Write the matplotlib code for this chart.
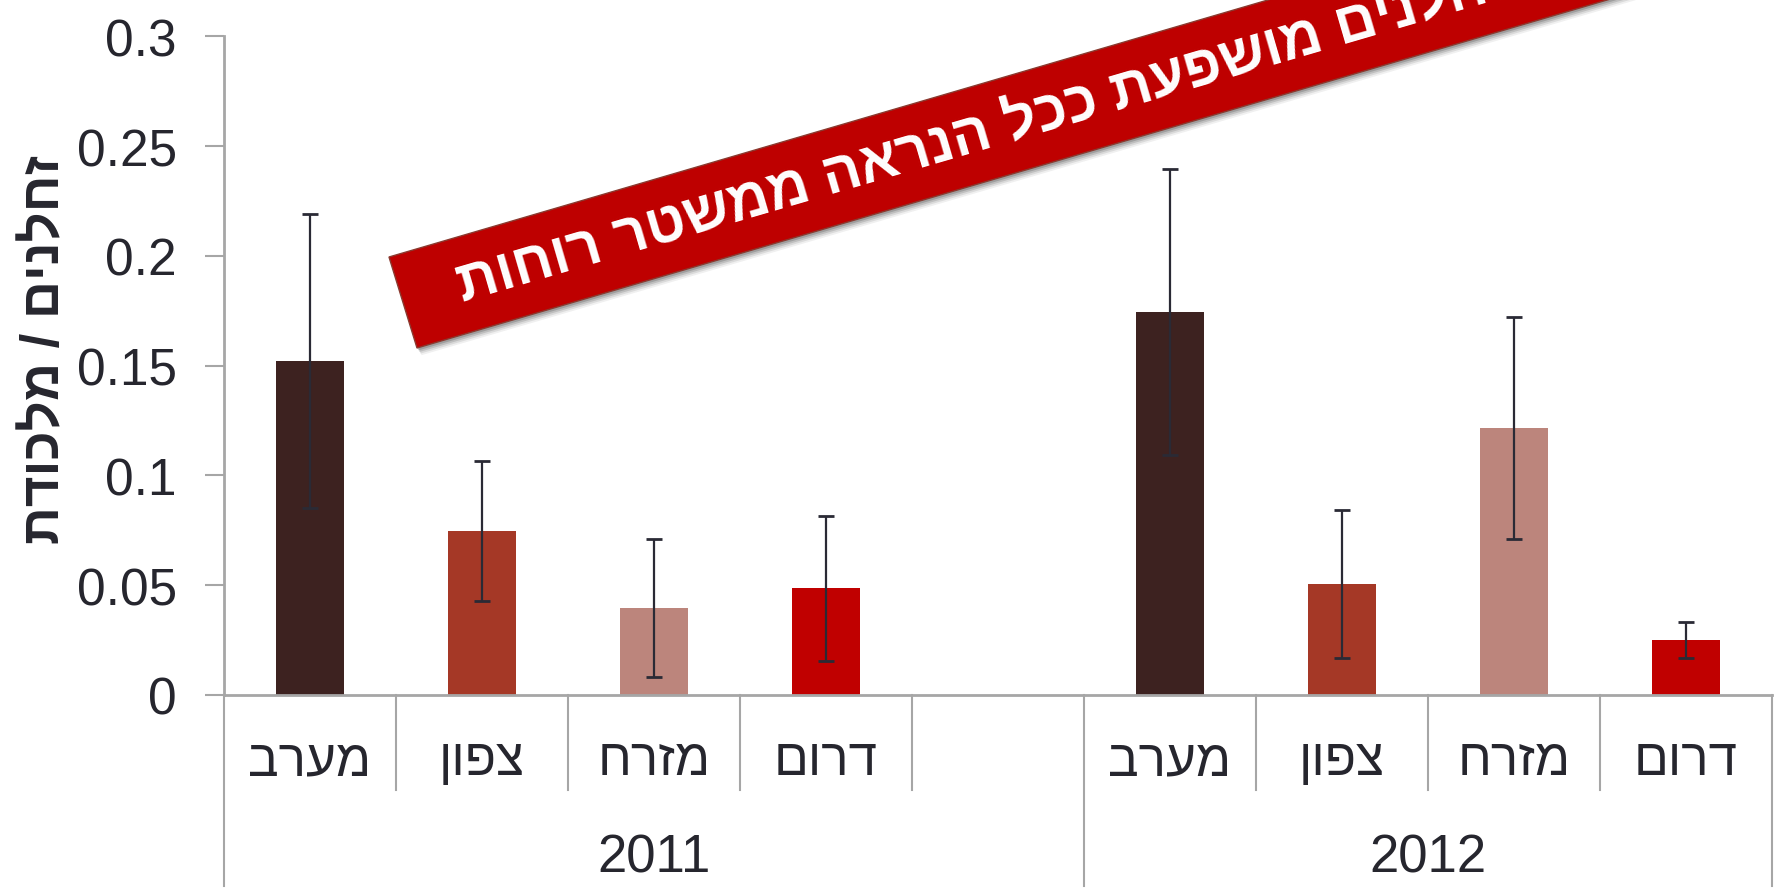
import matplotlib
matplotlib.use("Agg")
import matplotlib.pyplot as plt
import numpy as np
from matplotlib.patches import Polygon
from matplotlib.transforms import IdentityTransform

years = ['2011', '2012']
directions = ['מערב', 'צפון', 'מזרח', 'דרום']
vals_2011 = [0.152, 0.0747, 0.0396, 0.0487]
err_2011 = [0.067, 0.032, 0.0315, 0.033]
vals_2012 = [0.1745, 0.0504, 0.1215, 0.0252]
err_2012 = [0.0653, 0.0337, 0.0506, 0.0082]
colors = ['#3D2220', '#A53826', '#BC857C', '#C00000']
y_label = 'זחלנים / מלכודת'
banner_text = 'כמות זחלנים מושפעת ככל הנראה ממשטר רוחות'
yticks = [0, 0.05, 0.1, 0.15, 0.2, 0.25, 0.3]
ytick_labels = ['0', '0.05', '0.1', '0.15', '0.2', '0.25', '0.3']


def rtl(s):
    return s[::-1]


W, H = 1777, 895
fig = plt.figure(figsize=(W / 100, H / 100), dpi=100)
ax = fig.add_axes([224 / W, 1 - 696 / H, (1772 - 224) / W, (696 - 37.4) / H])

TXT = '#26262E'
GRID = '#A6A6A6'
font_reg = ['Liberation Sans', 'DejaVu Sans']
font_narrow = ['Liberation Sans Narrow', 'Liberation Sans', 'DejaVu Sans']

pos_2011 = np.arange(4)
pos_2012 = np.arange(4) + 5
ax.bar(pos_2011, vals_2011, width=0.4, color=colors, zorder=2)
ax.bar(pos_2012, vals_2012, width=0.4, color=colors, zorder=2)
ax.errorbar(pos_2011, vals_2011, yerr=err_2011, fmt='none', ecolor='#2A2A35',
            elinewidth=1.6, capsize=5.5, capthick=2, zorder=3)
ax.errorbar(pos_2012, vals_2012, yerr=err_2012, fmt='none', ecolor='#2A2A35',
            elinewidth=1.6, capsize=5.5, capthick=2, zorder=3)

ax.set_xlim(-0.5, 8.5)
ax.set_ylim(0, 0.3)
ax.set_yticks(yticks)
ax.set_yticklabels(ytick_labels, fontfamily=font_reg, fontsize=37, color=TXT)
ax.tick_params(axis='y', length=14, width=1.5, color=GRID, pad=20)
ax.set_xticks([])
for s in ['top', 'right']:
    ax.spines[s].set_visible(False)
for s in ['left', 'bottom']:
    ax.spines[s].set_color(GRID)
    ax.spines[s].set_linewidth(2)

tr = ax.get_xaxis_transform()
short_y = -0.144
long_y = -0.290
for b in [0.5, 1.5, 2.5, 3.5, 5.5, 6.5, 7.5]:
    ax.plot([b, b], [0, short_y], transform=tr, color=GRID, lw=1.5, clip_on=False)
for b in [-0.5, 4.5, 8.5]:
    ax.plot([b, b], [0, long_y], transform=tr, color=GRID, lw=1.5, clip_on=False)

for p, d in zip(list(pos_2011) + list(pos_2012), directions + directions):
    ax.text(p, -0.100, rtl(d), transform=tr, ha='center', va='center',
            fontsize=37, color=TXT, fontfamily=font_narrow)
ax.text(2, -0.246, years[0], transform=tr, ha='center', va='center',
        fontsize=38, color=TXT, fontfamily=font_narrow)
ax.text(6.5, -0.246, years[1], transform=tr, ha='center', va='center',
        fontsize=38, color=TXT, fontfamily=font_narrow)

fig.text(45 / W, 1 - 350 / H, rtl(y_label), rotation=90, ha='center', va='center',
         fontsize=38, fontweight='bold', color=TXT, fontfamily=font_reg)

# banner (pixel coords, top-origin converted)
theta = np.deg2rad(16.3)
u = np.array([np.cos(theta), -np.sin(theta)])
BL = np.array([417.0, 349.0])
TL = np.array([389.0, 258.0])
L = 1700
BR = BL + L * u
TR = TL + L * u


def to_disp(pts):
    return [(x, H - y) for x, y in pts]


for k, a in [(9, 0.08), (7, 0.12), (5, 0.18), (3, 0.25)]:
    off = np.array([k * 0.5, k * 0.8])
    sh = Polygon(to_disp([TL + off, TR + off, BR + off, BL + off]), closed=True,
                 transform=IdentityTransform(), facecolor='#404040', edgecolor='none',
                 alpha=a, zorder=9)
    fig.patches.append(sh)
poly = Polygon(to_disp([TL, TR, BR, BL]), closed=True, transform=IdentityTransform(),
               facecolor='#BE0000', edgecolor='#8A3A30', lw=1, zorder=10)
fig.patches.append(poly)

M = (BL + TL) / 2
P = M + 58 * u
fig.text(P[0] / W, 1 - P[1] / H, rtl(banner_text), rotation=np.rad2deg(theta),
         rotation_mode='anchor', ha='left', va='center', fontsize=41,
         fontweight='bold', color='white', fontfamily=['Liberation Sans', 'DejaVu Sans'],
         zorder=11)

fig.savefig('out.png', dpi=100)
